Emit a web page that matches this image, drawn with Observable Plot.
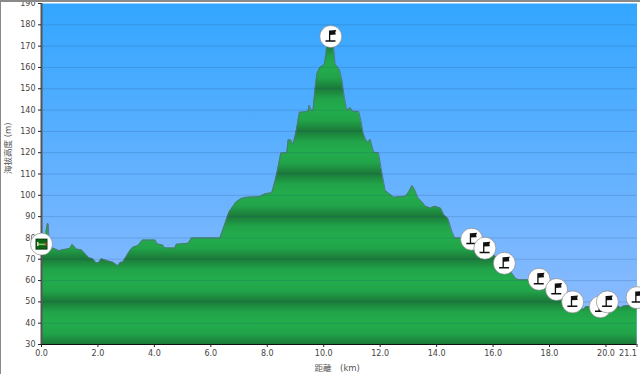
<!DOCTYPE html>
<html><head><meta charset="utf-8">
<script src="https://cdn.jsdelivr.net/npm/d3@7"></script>
<script src="https://cdn.jsdelivr.net/npm/@observablehq/plot@0.6"></script>
<style>
html,body{margin:0;padding:0;background:#fff;overflow:hidden}
body{width:640px;height:374px;position:relative}
body::before{content:"";position:absolute;left:0;top:0;width:640px;height:2px;background:#8a8a8a;z-index:2}
body::after{content:"";position:absolute;left:0;top:0;width:1px;height:374px;background:#8a8a8a;z-index:2}
svg{display:block}
</style></head><body><div id="chart"></div>
<script>
const km = [0,0.1,0.21,0.24,0.28,0.45,0.62,0.76,1.0,1.09,1.25,1.41,1.68,1.82,1.94,2.03,2.12,2.3,2.53,2.7,2.8,2.88,3.13,3.24,3.42,3.58,4.03,4.1,4.29,4.37,4.72,4.78,5.2,5.32,6.32,6.5,6.64,6.89,7.06,7.27,7.74,7.92,8.16,8.28,8.36,8.48,8.69,8.74,8.83,8.91,8.99,9.05,9.14,9.44,9.48,9.56,9.62,9.7,9.76,9.85,10.02,10.08,10.11,10.18,10.25,10.32,10.35,10.4,10.56,10.65,10.73,10.82,10.94,11.01,11.24,11.32,11.39,11.47,11.56,11.65,11.77,11.94,12.07,12.18,12.3,12.48,12.9,13.01,13.13,13.21,13.33,13.49,13.6,13.78,13.93,14.14,14.26,14.4,14.55,14.64,14.85,15.24,15.71,16.4,16.8,16.9,17.3,17.63,18.25,18.82,19.2,19.3,19.8,20.05,20.4,20.53,20.6,20.8,21.1];
const elevation = [75,78,86.8,86.6,75.6,75,74,74.5,75,76.9,74.7,74.5,70.7,70.2,68.3,68.5,70.2,69.4,68.6,67,68.6,68.6,74,75.6,76.4,79,79,77.2,76.7,75.3,75.3,77,77.5,80,80,86.6,92,96.8,98.4,99.1,99.4,100.7,101.2,107,111.6,119.8,120,126,126,124,128,132,139,139.3,142.3,139.8,139.8,150.7,157,159.8,161.4,166.4,171,174,175,174,170,161.7,158.9,153.9,146,139.8,141.2,139.5,139.3,135,129.6,126.5,124.9,126.2,120.2,120,110,102.2,101,99.1,99.6,101.5,104.6,103,99,96.8,94.9,94,94.9,94,90.8,89.2,82.7,80,80,79.4,75.2,68.1,61,60.4,60.4,60.6,55.8,50,46.4,47.8,47.7,48,48.3,47.2,48,48.3,48];
const flagKm = [10.25,15.24,15.71,16.4,17.63,18.25,18.82,19.8,20.05,21.1];
const flagElev = [174.5,79.4,75.2,68.1,60.6,55.8,50,47.7,50,52];
const startKm = [0];
const startElev = [77.1];
const xTicks = [0,2,4,6,8,10,12,14,16,18,20,21.1];
const yTicks = [30,40,50,60,70,80,90,100,110,120,130,140,150,160,170,180,190];
const xTitle = "距離　(km)";
const yTitle = "海拔高度 (m)";
const font = "'DejaVu Sans', Verdana, sans-serif";
const cjk = "'DejaVu Sans','Noto Sans CJK TC',sans-serif";

const profile = km.map((d,i)=>({km:d, elev:elevation[i]}));

const rectSym = (x0,y0,w,h)=>({draw(c){c.rect(x0,y0,w,h);}});
const flagSym = {draw(c){
  c.rect(-1.8,-6,1.3,10);
  c.moveTo(-0.8,-6);c.lineTo(5.5,-6.5);c.lineTo(4.5,-4.3);c.lineTo(5,-2);c.lineTo(-0.8,-1.6);c.closePath();
  c.rect(-5.3,3.6,10,1.5);
}};

function defsMark(index, scales){
  const defs = d3.create("svg:defs");
  const sky = defs.append("linearGradient").attr("id","sky").attr("x1",0).attr("x2",0).attr("y1",0).attr("y2",1);
  sky.append("stop").attr("offset",0).attr("stop-color","#33a6ff");
  sky.append("stop").attr("offset",1).attr("stop-color","#94bdff");
  const g = defs.append("linearGradient").attr("id","bands").attr("gradientUnits","userSpaceOnUse")
    .attr("spreadMethod","reflect").attr("x1",0).attr("x2",0).attr("y1",scales.y(60)).attr("y2",scales.y(50));
  g.append("stop").attr("offset",0).attr("stop-color","#22ad4c");
  g.append("stop").attr("offset",.5).attr("stop-color","#21a449");
  g.append("stop").attr("offset",1).attr("stop-color","#1b7a39");
  return defs.node();
}

const flagMarks = flagKm.flatMap((d,i)=>[
  Plot.dot([{km:d,elev:flagElev[i]}],{x:"km",y:"elev",r:11,fill:"#fff",stroke:"#777",strokeWidth:0.6}),
  Plot.dot([{km:d,elev:flagElev[i]}],{x:"km",y:"elev",r:5,symbol:flagSym,fill:"#111"})
]);
const start = [{km:startKm[0],elev:startElev[0]}];
const startMarks = [
  Plot.dot(start,{x:"km",y:"elev",r:11,fill:"#fff",stroke:"#777",strokeWidth:0.6}),
  Plot.dot(start,{x:"km",y:"elev",r:5,symbol:rectSym(-6,-5.5,12,11),fill:"#063a0c"}),
  Plot.dot(start,{x:"km",y:"elev",r:5,symbol:rectSym(-5,-4.5,10,9),fill:"#0b6614"}),
  Plot.dot(start,{x:"km",y:"elev",r:5,symbol:rectSym(-4,-0.5,8,1.5),fill:"#7fd26a"}),
  Plot.dot(start,{x:"km",y:"elev",r:5,symbol:rectSym(-4.5,-2,1.5,4),fill:"#e8d8c8"}),
  Plot.dot(start,{x:"km",y:"elev",r:5,symbol:rectSym(3.5,-1.5,1.5,3.5),fill:"#b5402a"})
];

const chart = Plot.plot({
  width:640,height:374,marginLeft:41,marginRight:3.5,marginTop:3,marginBottom:30,
  style:{fontFamily:font,fontSize:"8px",color:"#444",background:"transparent"},
  x:{domain:[0,21.1],label:null},
  y:{domain:[30,190],label:null},
  marks:[
    defsMark,
    Plot.frame({fill:"url(#sky)",stroke:"none"}),
    Plot.areaY(profile,{x:"km",y1:30,y2:"elev",fill:"url(#bands)"}),
    Plot.lineY(profile,{x:"km",y:"elev",stroke:"#56707a",strokeWidth:0.9}),
    Plot.ruleY(yTicks.slice(1,-1),{stroke:"#1d4a7a",strokeOpacity:0.2,strokeWidth:1}),
    Plot.ruleX([0],{stroke:"#555",strokeWidth:2}),
    Plot.ruleY([30],{stroke:"#111",strokeWidth:1.2}),
    Plot.axisY({ticks:yTicks,tickSize:3,tickPadding:3,stroke:"#222",fill:"#444",tickFormat:d=>String(d),label:null}),
    Plot.axisX({ticks:xTicks,tickSize:3,tickPadding:3,stroke:"#222",fill:"#444",tickFormat:d=>d===21.1?"":d.toFixed(1),label:null}),
    Plot.axisX({ticks:[21.1],tickSize:0,tickPadding:6,dx:-9,fill:"#444",tickFormat:d=>d.toFixed(1),label:null}),
    Plot.text([xTitle],{frameAnchor:"bottom",dy:26,dx:-2,fontFamily:cjk,fontSize:8.5,fill:"#555"}),
    Plot.text([yTitle],{frameAnchor:"left",dx:-33.5,rotate:-90,fontFamily:cjk,fontSize:8.5,fill:"#555"}),
    ...startMarks,
    ...flagMarks
  ]
});
document.getElementById("chart").appendChild(chart);
</script></body></html>
